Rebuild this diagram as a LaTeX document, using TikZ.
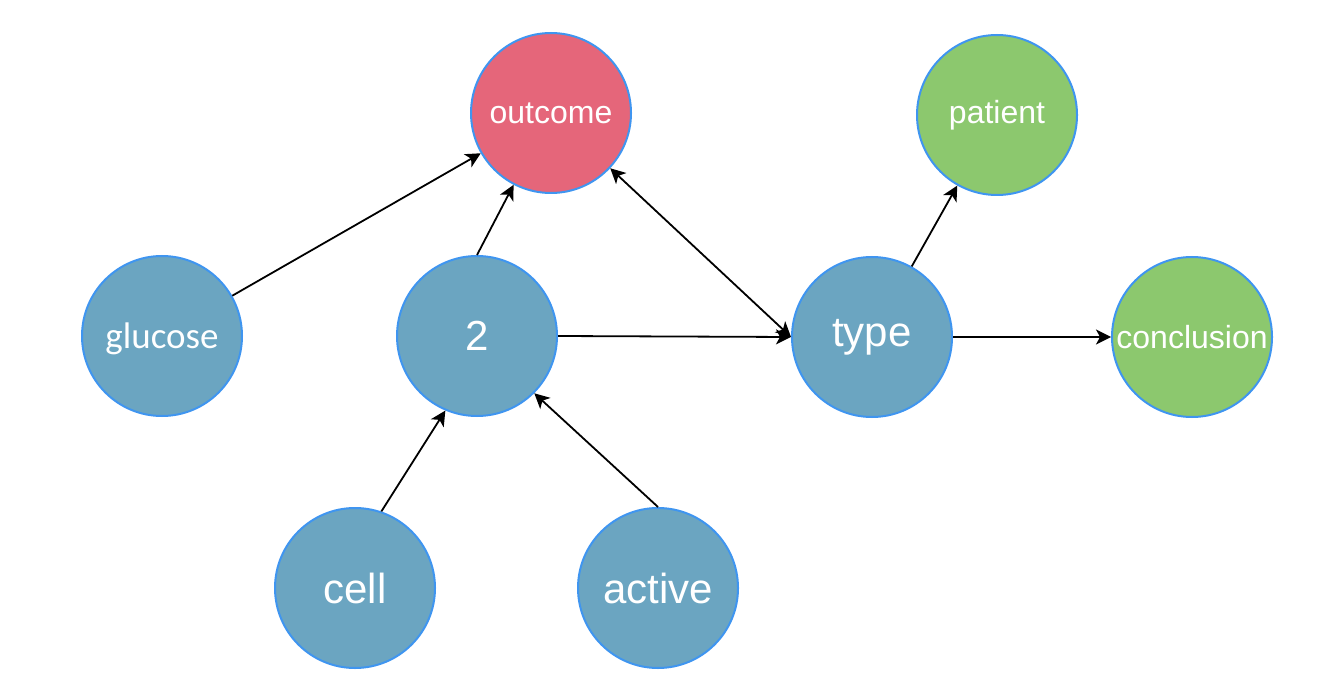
\documentclass[tikz,border=0pt]{standalone}
\usepackage{fontspec}
\setmainfont{Liberation Sans}
\newfontfamily\glufont{Carlito}
\usetikzlibrary{arrows.meta}
\definecolor{nblue}{HTML}{6BA5C1}
\definecolor{nred}{HTML}{E5667A}
\definecolor{ngreen}{HTML}{8CC86E}
\definecolor{nborder}{HTML}{3F95F0}
\tikzset{
  circ/.style={circle, draw=nborder, line width=1pt, minimum size=80pt, inner sep=0pt, text=white},
  bluen/.style={circ, fill=nblue},
  redn/.style={circ, fill=nred},
  greenn/.style={circ, fill=ngreen},
  bigtext/.style={font=\fontsize{21pt}{24pt}\selectfont},
  smalltext/.style={font=\fontsize{16pt}{19pt}\selectfont},
  glutext/.style={font=\glufont\fontsize{18.5pt}{22pt}\selectfont, text height=13pt, text depth=0pt},
  edge/.style={draw=black, line width=0.9pt, -{Stealth[length=7.5pt, width=7.5pt, inset=2pt]}},
  dedge/.style={draw=black, line width=0.9pt, {Stealth[length=7.5pt, width=7.5pt, inset=2pt]}-{Stealth[length=7.5pt, width=7.5pt, inset=2pt]}}
}
\begin{document}
\begin{tikzpicture}[x=0.5pt, y=-0.5pt]
\useasboundingbox (0,0) rectangle (1331,689);
\node[redn, smalltext] (outcome) at (551,113) {outcome};
\node[greenn, smalltext] (patient) at (997,115) {patient};
\node[bluen, glutext] (glucose) at (162,336) {glucose};
\node[bluen, bigtext] (two) at (477,336) {2};
\node[bluen, bigtext] (type) at (872,337) {type};
\node[greenn, smalltext] (conclusion) at (1192,337) {conclusion};
\node[bluen, bigtext] (cell) at (355,588) {cell};
\node[bluen, bigtext] (active) at (658,588) {active};

\draw[edge] (glucose) -- (outcome);
\draw[edge] (two.north) -- (outcome);
\draw[dedge] (outcome) -- (type.west);
\draw[edge] (two.east) -- (type.west);
\draw[edge] (type) -- (patient);
\draw[edge] (type.east) -- (conclusion.west);
\draw[edge] (cell.71) -- (two.247);
\draw[edge] (active.north) -- (two.-45);
\end{tikzpicture}
\end{document}
